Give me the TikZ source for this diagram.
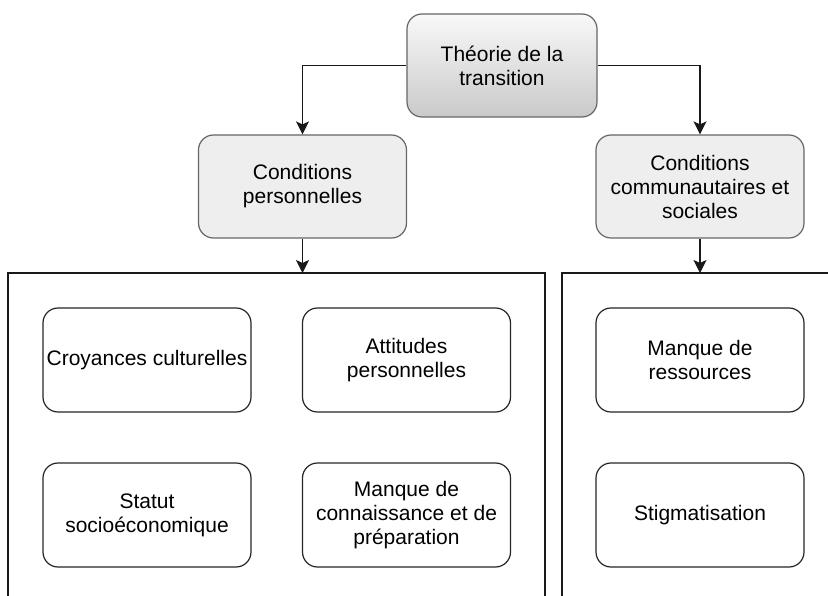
\documentclass[tikz,border=0pt]{standalone}
\usepackage{fontspec}
\setmainfont{Liberation Sans}
\usetikzlibrary{arrows.meta, positioning}
\definecolor{condgray}{RGB}{238,238,238}
\definecolor{edgegray}{RGB}{102,102,102}

\begin{document}
\begin{tikzpicture}[x=1pt, y=-1pt,
    font=\fontsize{21}{24}\selectfont,
    theory/.style={draw=edgegray, line width=1.2pt, top color=gray!5, bottom color=gray!42,
        rounded corners=15pt, minimum width=190pt, minimum height=103pt, align=center, inner sep=0pt},
    cond/.style={draw=edgegray, line width=1.2pt, fill=condgray, rounded corners=15pt,
        minimum width=208pt, minimum height=103pt, align=center, inner sep=0pt},
    item/.style={draw=black!85, line width=1.2pt, fill=white, rounded corners=15pt,
        minimum width=208pt, minimum height=104pt, align=center, inner sep=0pt},
    frame/.style={draw=black!90, line width=1.3pt},
    arrow/.style={-{Stealth[length=13pt,width=13pt,inset=3pt]}, line width=1.3pt, black!90}
]
\useasboundingbox (0,0) rectangle (828,596);
% top of the tree
\node[theory] (theory) at (502,65.5) {Théorie de la\\transition};
\node[cond] (perso) at (302.5,186.5) {Conditions\\personnelles};
\node[cond] (social) at (700,186.5) {Conditions\\communautaires et\\sociales};
% containers (open at the page edge)
\coordinate (lefttop) at (302.5,273);
\coordinate (righttop) at (700,273);
\draw[frame] (8,597) -- (8,273) -- (545,273) -- (545,597);
\draw[frame] (562,597) -- (562,273) -- (829,273);
% personal conditions
\node[item] (croyances) at (147,360) {Croyances culturelles};
\node[item] (attitudes) at (406.5,360) {Attitudes\\personnelles};
\node[item] (statut) at (147,515) {Statut\\socioéconomique};
\node[item] (manque) at (406.5,515) {Manque de\\connaissance et de\\préparation};
% community and social conditions
\node[item] (ressources) at (700,360) {Manque de\\ressources};
\node[item] (stigma) at (700,515) {Stigmatisation};
% arrows
\draw[arrow] (theory.west) -| (perso.north);
\draw[arrow] (theory.east) -| (social.north);
\draw[arrow] (perso.south) -- (lefttop);
\draw[arrow] (social.south) -- (righttop);
\end{tikzpicture}
\end{document}
